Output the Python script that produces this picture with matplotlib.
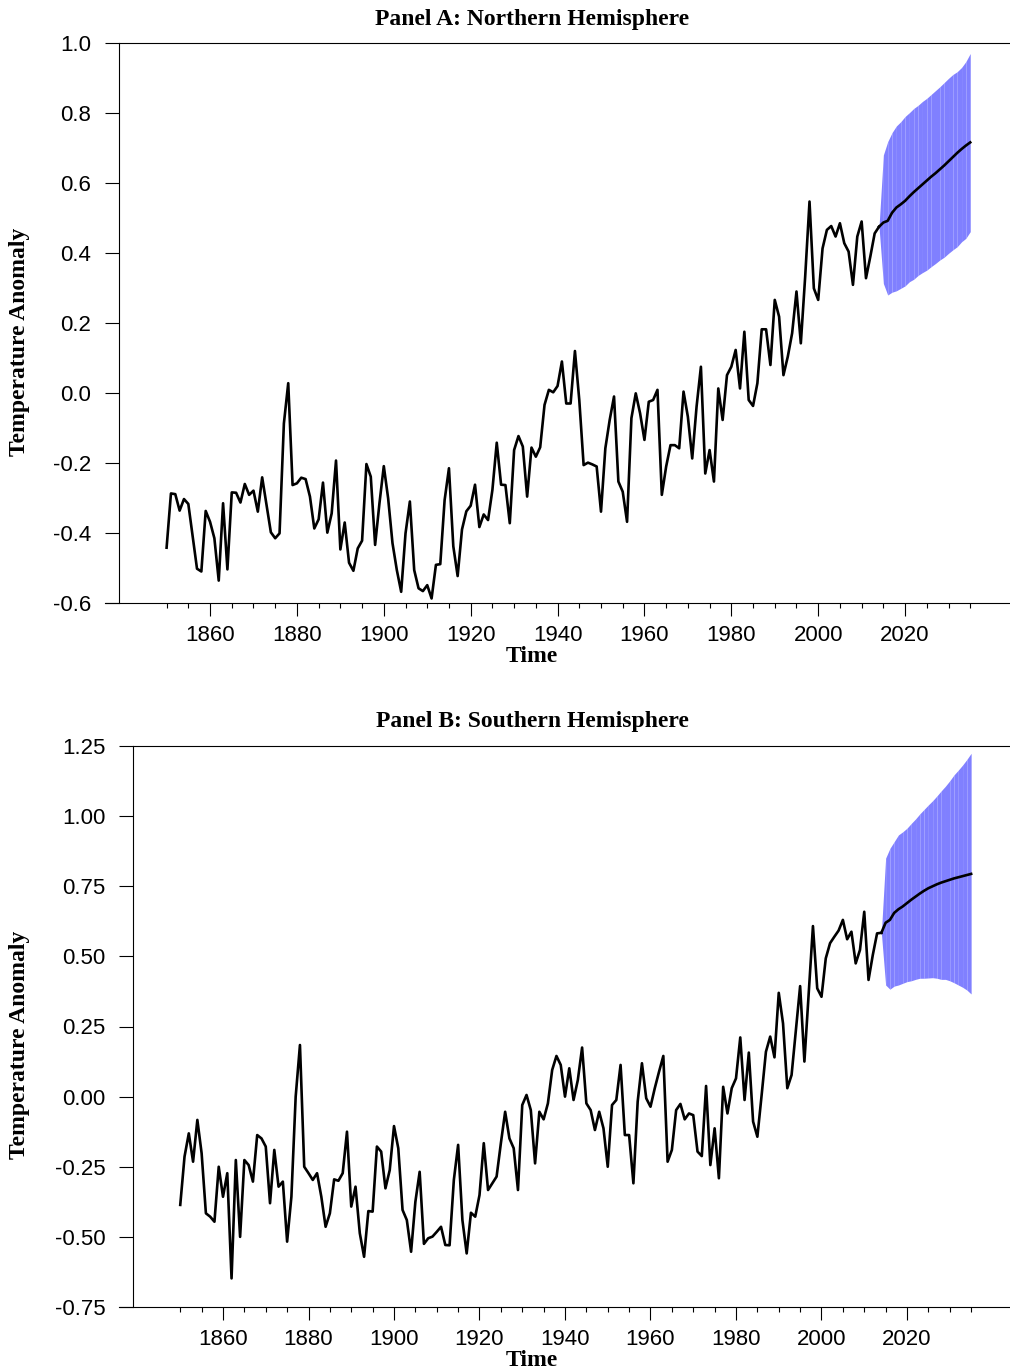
import matplotlib
matplotlib.use('Agg')
import matplotlib.pyplot as plt
import numpy as np
from matplotlib.ticker import MultipleLocator, FixedLocator, FormatStrFormatter

plt.rcParams['axes.unicode_minus'] = False
plt.rcParams['font.family'] = ['Liberation Sans', 'DejaVu Sans']

# observed annual anomalies, 1850-2014
first_year, last_year = 1850, 2014
nh_obs = [
    -0.442, -0.287, -0.289, -0.336, -0.303, -0.317, -0.41, -0.502, -0.51, -0.337,
    -0.368, -0.415, -0.536, -0.315, -0.504, -0.284, -0.285, -0.313, -0.26, -0.291,
    -0.279, -0.339, -0.241, -0.32, -0.398, -0.415, -0.401, -0.087, 0.028, -0.263,
    -0.258, -0.242, -0.246, -0.296, -0.387, -0.361, -0.256, -0.399, -0.344, -0.193,
    -0.447, -0.37, -0.485, -0.508, -0.444, -0.422, -0.203, -0.239, -0.434, -0.315,
    -0.209, -0.301, -0.429, -0.506, -0.568, -0.401, -0.31, -0.506, -0.558, -0.566,
    -0.549, -0.587, -0.491, -0.489, -0.306, -0.215, -0.438, -0.523, -0.39, -0.338,
    -0.322, -0.262, -0.383, -0.347, -0.363, -0.277, -0.142, -0.262, -0.263, -0.372,
    -0.163, -0.123, -0.153, -0.296, -0.156, -0.182, -0.155, -0.034, 0.009, 0.002,
    0.02, 0.09, -0.03, -0.03, 0.12, -0.02, -0.206, -0.199, -0.204, -0.21,
    -0.339, -0.158, -0.077, -0.01, -0.253, -0.282, -0.368, -0.072, -0.001, -0.058,
    -0.134, -0.025, -0.02, 0.009, -0.291, -0.21, -0.149, -0.149, -0.158, 0.004,
    -0.068, -0.187, -0.039, 0.075, -0.23, -0.163, -0.253, 0.013, -0.077, 0.051,
    0.075, 0.123, 0.013, 0.175, -0.02, -0.037, 0.028, 0.182, 0.182, 0.08,
    0.266, 0.218, 0.051, 0.104, 0.171, 0.29, 0.142, 0.332, 0.547, 0.299,
    0.266, 0.413, 0.466, 0.477, 0.447, 0.485, 0.428, 0.404, 0.309, 0.447,
    0.49, 0.328, 0.39, 0.456, 0.475,
]
sh_obs = [
    -0.386, -0.214, -0.131, -0.232, -0.083, -0.202, -0.416, -0.428, -0.446, -0.25,
    -0.357, -0.273, -0.648, -0.226, -0.5, -0.226, -0.244, -0.303, -0.137, -0.149,
    -0.178, -0.38, -0.19, -0.321, -0.303, -0.517, -0.357, 0.0, 0.184, -0.25,
    -0.273, -0.297, -0.273, -0.357, -0.464, -0.416, -0.295, -0.3, -0.273, -0.125,
    -0.392, -0.321, -0.487, -0.571, -0.408, -0.41, -0.178, -0.196, -0.327, -0.262,
    -0.105, -0.184, -0.404, -0.44, -0.553, -0.375, -0.268, -0.525, -0.505, -0.499,
    -0.482, -0.464, -0.529, -0.53, -0.297, -0.172, -0.44, -0.559, -0.414, -0.428,
    -0.351, -0.166, -0.333, -0.309, -0.285, -0.166, -0.054, -0.149, -0.184, -0.333,
    -0.03, 0.006, -0.048, -0.238, -0.054, -0.081, -0.024, 0.095, 0.145, 0.113,
    0.0, 0.101, -0.012, 0.059, 0.175, -0.024, -0.048, -0.119, -0.054, -0.113,
    -0.25, -0.03, -0.012, 0.113, -0.137, -0.137, -0.309, -0.018, 0.119, -0.006,
    -0.036, 0.03, 0.089, 0.145, -0.232, -0.19, -0.048, -0.026, -0.081, -0.06,
    -0.066, -0.196, -0.212, 0.038, -0.244, -0.113, -0.291, 0.035, -0.06, 0.03,
    0.065, 0.211, -0.012, 0.157, -0.089, -0.143, 0.006, 0.16, 0.214, 0.14,
    0.37, 0.261, 0.03, 0.077, 0.237, 0.394, 0.125, 0.368, 0.608, 0.386,
    0.356, 0.493, 0.547, 0.57, 0.592, 0.63, 0.561, 0.588, 0.475, 0.523,
    0.659, 0.416, 0.505, 0.582, 0.584,
]

# forecast 2014-2035 (starts from last observation)
fc_first, fc_last = 2014, 2035
nh_mean = [0.475, 0.487, 0.492, 0.515, 0.53, 0.539, 0.549, 0.562, 0.574, 0.585, 0.596,
           0.607, 0.618, 0.628, 0.639, 0.65, 0.662, 0.674, 0.686, 0.697, 0.707, 0.716]
nh_upper = [0.475, 0.68, 0.718, 0.744, 0.763, 0.775, 0.79, 0.801, 0.813, 0.822, 0.833,
            0.842, 0.853, 0.864, 0.875, 0.887, 0.899, 0.91, 0.918, 0.93, 0.947, 0.97]
nh_lower = [0.475, 0.313, 0.28, 0.288, 0.292, 0.299, 0.306, 0.318, 0.325, 0.336, 0.344,
            0.351, 0.361, 0.37, 0.38, 0.388, 0.399, 0.409, 0.418, 0.432, 0.442, 0.461]
sh_mean = [0.584, 0.62, 0.63, 0.655, 0.668, 0.678, 0.69, 0.702, 0.713, 0.724, 0.734,
           0.743, 0.75, 0.757, 0.763, 0.768, 0.773, 0.778, 0.782, 0.786, 0.79, 0.794]
sh_upper = [0.584, 0.85, 0.885, 0.909, 0.933, 0.944, 0.957, 0.974, 0.99, 1.008, 1.024,
            1.04, 1.055, 1.072, 1.09, 1.107, 1.126, 1.147, 1.164, 1.182, 1.202, 1.224]
sh_lower = [0.584, 0.398, 0.383, 0.394, 0.398, 0.404, 0.41, 0.413, 0.418, 0.422, 0.422,
            0.423, 0.424, 0.422, 0.418, 0.418, 0.413, 0.406, 0.398, 0.39, 0.38, 0.366]

obs_years = np.arange(first_year, last_year + 1)
fc_years = np.arange(fc_first, fc_last + 1)

W, H = 1010, 1372
fig = plt.figure(figsize=(W / 100, H / 100), dpi=100)

panels = [
    dict(title='Panel A: Northern Hemisphere', obs=nh_obs, mean=nh_mean, lo=nh_lower, hi=nh_upper,
         box=(105, 43, 603), spine_x=119, pxyr=4.344, x1850=166.6,
         ylim=(-0.6, 1.0), ystep=0.2, yfmt='%.1f', title_y=19, xlab_y=657, ylab_y=342),
    dict(title='Panel B: Southern Hemisphere', obs=sh_obs, mean=sh_mean, lo=sh_lower, hi=sh_upper,
         box=(119, 746, 1307), spine_x=133, pxyr=4.275, x1850=180.25,
         ylim=(-0.75, 1.25), ystep=0.25, yfmt='%.2f', title_y=722, xlab_y=1360, ylab_y=1045),
]

serif = dict(family='Liberation Serif', fontweight='bold', fontsize=17)

for p in panels:
    left, top, bottom = p['box']
    ax = fig.add_axes([left / W, (H - bottom) / H, (W - left) / W, (bottom - top) / H])
    x0 = 1850 - (p['x1850'] - left) / p['pxyr']
    x1 = x0 + (W - left) / p['pxyr']
    xspine = 1850 - (p['x1850'] - p['spine_x']) / p['pxyr']

    # forecast band, one polygon per year
    for i in range(len(fc_years) - 1):
        ax.fill_between(fc_years[i:i + 2], p['lo'][i:i + 2], p['hi'][i:i + 2],
                        color='#8080ff', linewidth=0, zorder=1)
    ax.plot(obs_years, p['obs'], color='black', lw=1.9, zorder=3)
    ax.plot(fc_years, p['mean'], color='black', lw=1.9, zorder=3)

    ax.set_xlim(x0, x1)
    ax.set_ylim(*p['ylim'])
    ax.spines['right'].set_visible(False)
    ax.spines['left'].set_position(('data', xspine))
    ax.spines['top'].set_bounds(xspine, x1)
    for s in ax.spines.values():
        s.set_linewidth(0.8)

    ax.xaxis.set_major_locator(FixedLocator(np.arange(1860, 2021, 20)))
    ax.xaxis.set_minor_locator(FixedLocator([y for y in range(1850, 2041, 5) if y % 20 != 0]))
    ax.yaxis.set_major_locator(MultipleLocator(p['ystep']))
    ax.yaxis.set_major_formatter(FormatStrFormatter(p['yfmt']))
    ax.tick_params(axis='x', which='major', length=9, width=0.8, labelsize=16, pad=7)
    ax.tick_params(axis='x', which='minor', length=3.6, width=0.8)
    ax.tick_params(axis='y', which='major', length=10, width=0.8, labelsize=16, pad=10)

    fig.text(532 / W, 1 - p['title_y'] / H, p['title'], ha='center', va='center', **serif)
    fig.text(532 / W, 1 - p['xlab_y'] / H, 'Time', ha='center', va='center', **serif)
    fig.text(20 / W, 1 - p['ylab_y'] / H, 'Temperature Anomaly', ha='center', va='center',
             rotation=90, **serif)

fig.savefig('out.png', dpi=100)
